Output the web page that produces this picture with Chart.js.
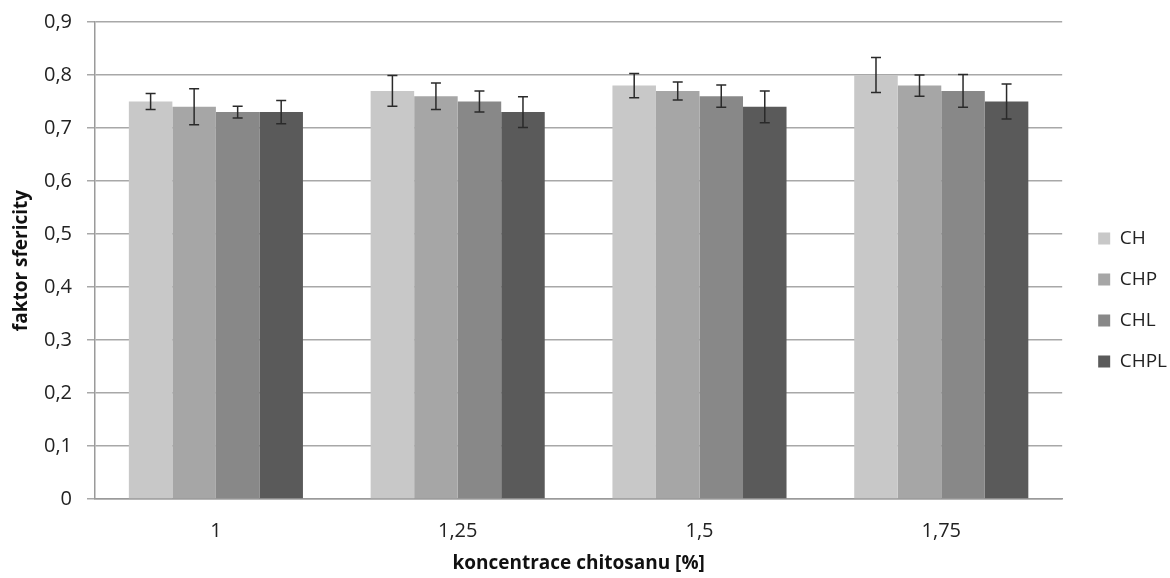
<!DOCTYPE html>
<html>
<head>
<meta charset="utf-8">
<script src="https://cdn.jsdelivr.net/npm/chart.js@4.4.1/dist/chart.umd.min.js"></script>
<style>
html,body{margin:0;padding:0;background:#fff;}
#wrap{width:1170px;height:578px;}
</style>
</head>
<body>
<div id="wrap"><canvas id="c" width="1170" height="578"></canvas></div>
<script>
const categories = ['1', '1,25', '1,5', '1,75'];
const seriesNames = ['CH', 'CHP', 'CHL', 'CHPL'];
const CH   = [0.75, 0.77, 0.78, 0.80];
const CHP  = [0.74, 0.76, 0.77, 0.78];
const CHL  = [0.73, 0.75, 0.76, 0.77];
const CHPL = [0.73, 0.73, 0.74, 0.75];
const errCH   = [0.015, 0.029, 0.023, 0.033];
const errCHP  = [0.034, 0.025, 0.017, 0.020];
const errCHL  = [0.011, 0.020, 0.021, 0.031];
const errCHPL = [0.022, 0.029, 0.030, 0.033];
const yTicks = [0, 0.1, 0.2, 0.3, 0.4, 0.5, 0.6, 0.7, 0.8, 0.9];

const values = [CH, CHP, CHL, CHPL];
const errors = [errCH, errCHP, errCHL, errCHPL];
const colors = ['#c8c8c8', '#a6a6a6', '#888888', '#5a5a5a'];

const errorBarPlugin = {
  id: 'errorBars',
  afterDatasetsDraw(chart) {
    const ctx = chart.ctx;
    const y = chart.scales.y;
    ctx.save();
    ctx.strokeStyle = '#2a2a2a';
    ctx.lineWidth = 1.5;
    chart.data.datasets.forEach((ds, di) => {
      const meta = chart.getDatasetMeta(di);
      meta.data.forEach((bar, i) => {
        const v = ds.data[i], e = ds.errors[i];
        const yt = y.getPixelForValue(v + e), yb = y.getPixelForValue(v - e);
        const x = bar.x, cap = 5;
        ctx.beginPath();
        ctx.moveTo(x, yt); ctx.lineTo(x, yb);
        ctx.moveTo(x - cap, yt); ctx.lineTo(x + cap, yt);
        ctx.moveTo(x - cap, yb); ctx.lineTo(x + cap, yb);
        ctx.stroke();
      });
    });
    ctx.restore();
  }
};

const legendShift = {
  id: 'legendShift',
  afterLayout(chart) {
    const lg = chart.legend;
    if (lg) { lg.left += 14; lg.right += 14; }
  }
};

new Chart(document.getElementById('c'), {
  type: 'bar',
  data: {
    labels: categories,
    datasets: seriesNames.map((n, i) => ({
      label: n,
      data: values[i],
      errors: errors[i],
      backgroundColor: colors[i],
      borderWidth: 0,
      categoryPercentage: 0.72,
      barPercentage: 1.0
    }))
  },
  options: {
    responsive: false,
    animation: false,
    devicePixelRatio: 1,
    layout: { padding: { top: 22, left: 0, right: 7, bottom: 0 } },
    plugins: {
      legend: {
        position: 'right',
        labels: {
          boxWidth: 12,
          boxHeight: 12,
          padding: 22,
          color: '#222',
          font: { family: 'Open Sans', size: 19 }
        }
      },
      tooltip: { enabled: false }
    },
    scales: {
      x: {
        grid: { display: false, drawTicks: false },
        border: { display: true, color: '#9a9a9a', width: 1.5 },
        ticks: { color: '#222', padding: 20, font: { family: 'Open Sans', size: 20 } },
        title: {
          display: true,
          text: 'koncentrace chitosanu [%]',
          color: '#111',
          font: { family: 'Open Sans', size: 19, weight: 'bold' },
          padding: { top: 4, bottom: 3 }
        },
        afterFit(s) { s.height = 79; s.paddingTop = 0; }
      },
      y: {
        min: 0,
        max: 0.9,
        afterBuildTicks(s) { s.ticks = yTicks.map(v => ({ value: v })); },
        grid: { color: '#a8a8a8', lineWidth: 1.5, tickLength: 8, drawTicks: true },
        border: { display: true, color: '#9a9a9a', width: 1.5 },
        ticks: {
          color: '#222',
          padding: 15,
          font: { family: 'Open Sans', size: 20 },
          callback: (v) => String(Math.round(v * 10) / 10).replace('.', ',')
        },
        title: {
          display: true,
          text: 'faktor sfericity',
          color: '#111',
          font: { family: 'Open Sans', size: 19, weight: 'bold' },
          padding: { top: 10, bottom: 0 }
        },
        afterFit(s) { s.width = 95; s.paddingTop = 0; s.paddingBottom = 0; }
      }
    }
  },
  plugins: [errorBarPlugin, legendShift]
});
</script>
</body>
</html>
